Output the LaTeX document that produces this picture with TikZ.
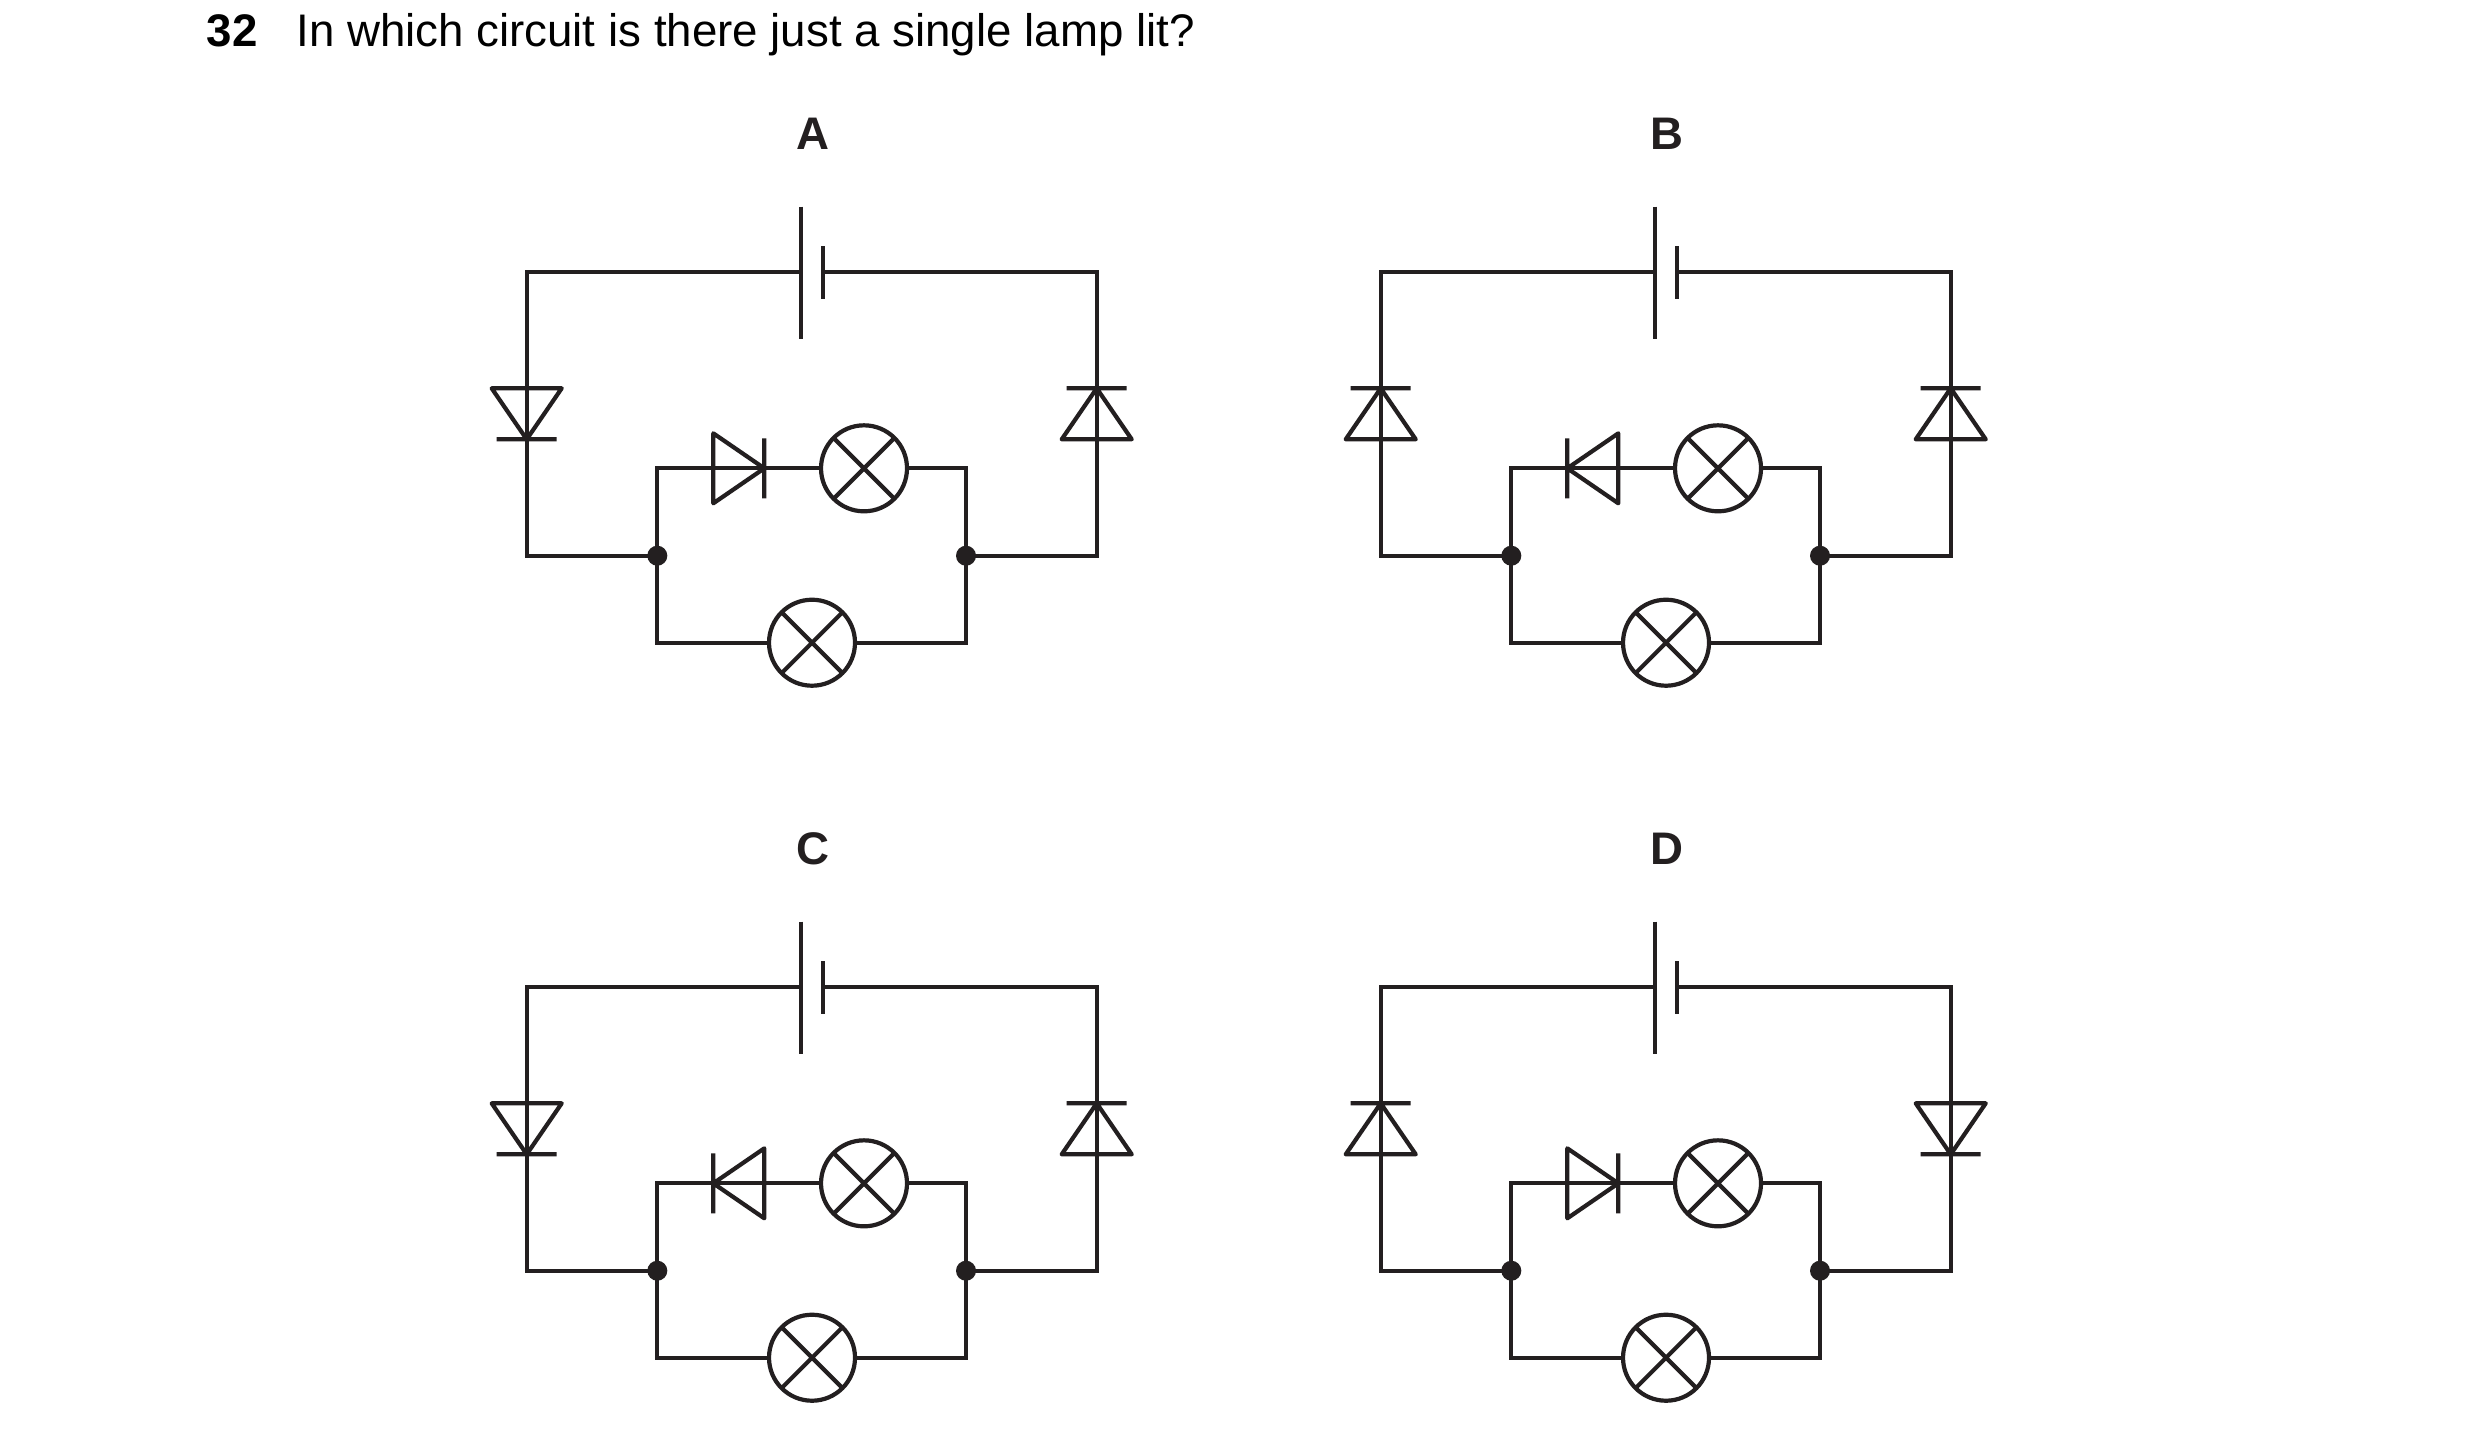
\documentclass[tikz,border=0pt]{standalone}
\usepackage{fontspec}
\setmainfont{Liberation Sans}
\definecolor{ink}{RGB}{35,31,32}
\def\px{0.2409pt}
\tikzset{
  wire/.style={draw=ink, line width={4.2*\px}, line join=miter, line cap=butt},
  diodeline/.style={draw=ink, line width={4.2*\px}, line join=round, line cap=butt},
  dot/.style={circle, fill=ink, draw=none, inner sep=0pt, minimum size={20*\px}},
  lamp/.style={circle, draw=ink, line width={4.2*\px}, inner sep=0pt, outer sep=0pt, minimum size={86*\px},
    path picture={\draw[ink, line width={4.2*\px}] (path picture bounding box.north west) -- (path picture bounding box.south east)
      (path picture bounding box.north east) -- (path picture bounding box.south west);}},
  lettre/.style={anchor=base, inner sep=0pt, text=ink, font=\fontsize{11}{13}\selectfont\bfseries},
  textline/.style={anchor=base west, inner sep=0pt, text=black, font=\fontsize{11}{13}\selectfont}
}
\newcommand\ddown[1]{\draw[diodeline] (#1-35,388.3) -- (#1+35,388.3) -- (#1,439.3) -- cycle (#1-30,439.3) -- (#1+30,439.3);}
\newcommand\dup[1]{\draw[diodeline] (#1-35,439.3) -- (#1+35,439.3) -- (#1,388.3) -- cycle (#1-30,388.3) -- (#1+30,388.3);}
\newcommand\dright{\draw[diodeline] (713.3,433.3) -- (713.3,503.3) -- (764.3,468.3) -- cycle (764.3,438.3) -- (764.3,498.3);}
\newcommand\dleft{\draw[diodeline] (764.3,433.3) -- (764.3,503.3) -- (713.3,468.3) -- cycle (713.3,438.3) -- (713.3,498.3);}
% #1 name, #2 dx, #3 dy, #4 left diode, #5 right diode, #6 inner diode
\newcommand\circuitpic[6]{%
\begin{scope}[shift={(#2,#3)}]
  \coordinate (#1tl) at (526.7,272.3);
  \coordinate (#1tr) at (1096.7,272.3);
  \coordinate (#1bl) at (526.7,555.7);
  \coordinate (#1br) at (1096.7,555.7);
  \coordinate (#1bp) at (800.7,272.3);
  \coordinate (#1bn) at (822.7,272.3);
  \coordinate (#1bpt) at (800.7,206.5);
  \coordinate (#1bpb) at (800.7,338.5);
  \coordinate (#1bnt) at (822.7,246);
  \coordinate (#1bnb) at (822.7,299);
  \coordinate (#1itl) at (657.3,468.3);
  \coordinate (#1itr) at (966,468.3);
  \coordinate (#1ibl) at (657.3,642.7);
  \coordinate (#1ibr) at (966,642.7);
  \node[lamp] (#1la) at (864,468.3) {};
  \node[lamp] (#1lb) at (812,642.7) {};
  \node[lettre] (#1lab) at (812.5,149.3) {#1};
  \draw[wire] (#1bpt) -- (#1bpb);
  \draw[wire] (#1bnt) -- (#1bnb);
  \draw[wire] (#1bp) -- (#1tl) -- (#1bl) -- (#1ibl |- #1bl) coordinate (#1jlc) -- (#1ibl) -- (#1lb.west);
  \draw[wire] (#1lb.east) -- (#1ibr) -- (#1ibr |- #1br) coordinate (#1jrc) -- (#1br) -- (#1tr) -- (#1bn);
  \draw[wire] (#1jlc) -- (#1itl) -- (#1la.west);
  \draw[wire] (#1la.east) -- (#1itr) -- (#1jrc);
  \node[dot] (#1jl) at (#1jlc) {};
  \node[dot] (#1jr) at (#1jrc) {};
  #4{526.7}
  #5{1096.7}
  #6
\end{scope}}
\begin{document}
\begin{tikzpicture}[x=0.2409pt, y=-0.2409pt]
  \path[use as bounding box, fill=white] (0,0) rectangle (2480,1443);
  \node[textline, font=\fontsize{11}{13}\selectfont\bfseries] (num) at (206,46.7) {32};
  \node[textline] (question) at (295.5,46.7) {In which circuit is there just a single lamp lit?};
  \circuitpic{A}{0}{0}{\ddown}{\dup}{\dright}
  \circuitpic{B}{854}{0}{\dup}{\dup}{\dleft}
  \circuitpic{C}{0}{715}{\ddown}{\dup}{\dleft}
  \circuitpic{D}{854}{715}{\dup}{\ddown}{\dright}
\end{tikzpicture}
\end{document}
